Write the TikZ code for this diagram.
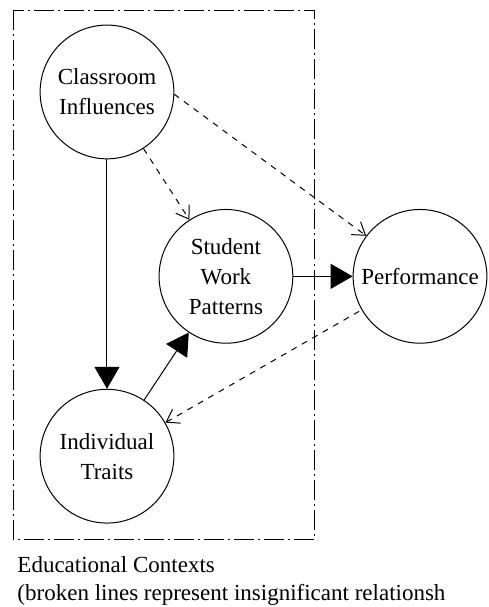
\documentclass[tikz,border=0pt]{standalone}
\usepackage{fontspec}
\setmainfont{Liberation Serif}
\usetikzlibrary{arrows.meta}
\begin{document}
\begin{tikzpicture}[every node/.style={font=\fontsize{11.5}{15}\selectfont},
  factor/.style={draw, circle, line width=0.5pt, minimum size=2.35cm, inner sep=0pt, align=center},
  strong/.style={line width=0.5pt, -{Triangle[length=11pt, width=12.5pt]}},
  weak/.style={line width=0.5pt, dashed, -{Straight Barb[length=6pt, width=8pt]}},
  contextbox/.style={line width=0.5pt, dash pattern=on 10pt off 2pt on 1pt off 2pt}]
\useasboundingbox (0,0) rectangle (8.575,10.666);
% educational context frame
\draw[contextbox] (0.23,10.49) rectangle (5.52,1.19);
% factors
\node[factor] (cls) at (1.88,9.05) {Classroom\\Influences};
\node[factor] (swp) at (3.97,5.81) {Student\\Work\\Patterns};
\node[factor] (perf) at (7.38,5.81) {Performance};
\node[factor] (ind) at (1.88,2.65) {Individual\\Traits};
% significant paths
\draw[strong] (cls) -- (ind);
\draw[strong] (ind) -- (swp);
\draw[strong] (swp) -- (perf);
% insignificant paths
\draw[weak] (cls) -- (swp);
\draw[weak] (cls.-2) -- (perf.143);
\draw[weak, {Straight Barb[length=6pt, width=8pt]}-] (ind) -- (perf);
% caption
\node[anchor=west, inner sep=0pt] (ctx) at (0.30,0.74) {Educational Contexts};
\node[anchor=west, inner sep=0pt] (note) at (0.30,0.21) {(broken lines represent insignificant relationsh};
\end{tikzpicture}
\end{document}
